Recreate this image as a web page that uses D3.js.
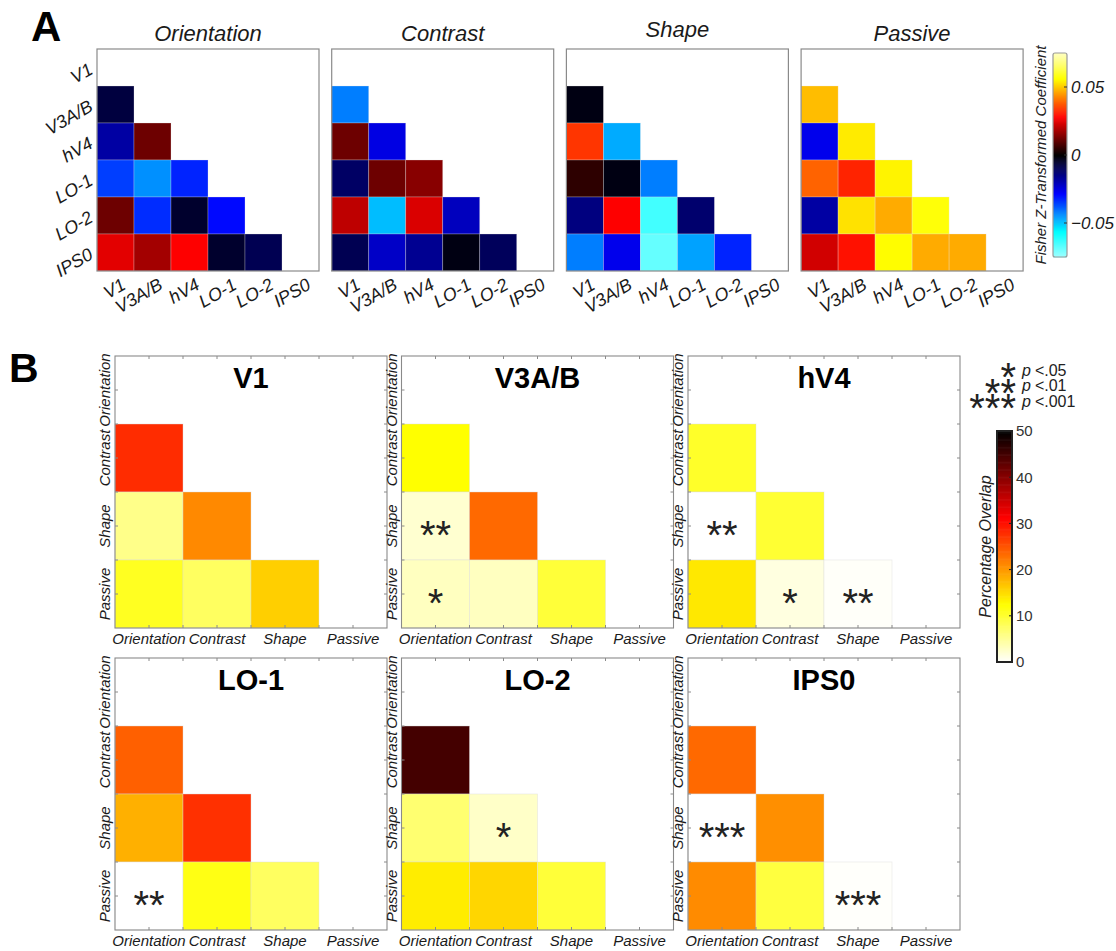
<!DOCTYPE html>
<html>
<head>
<meta charset="utf-8">
<script src="https://cdn.jsdelivr.net/npm/d3@7"></script>
<style>
  body { margin: 0; background: #fff; }
  svg { display: block; }
  text { font-family: Arial, "Liberation Sans", Helvetica, sans-serif; }
</style>
</head>
<body>
<svg id="fig" width="1116" height="951"></svg>
<script>
// ---------- data ----------
const regions = ["V1", "V3A/B", "hV4", "LO-1", "LO-2", "IPS0"];
const tasks = ["Orientation", "Contrast", "Shape", "Passive"];

// Panel A: Fisher Z-transformed coefficients, lower triangle (row = regions[1..], col = regions[0..row-1])
const orientationZ = [
  [-0.007],
  [-0.018, 0.012],
  [-0.035, -0.044, -0.032],
  [0.012, -0.033, -0.005, -0.029],
  [0.025, 0.018, 0.028, -0.005, -0.009]
];
const contrastZ = [
  [-0.042],
  [0.012, -0.025],
  [-0.011, 0.012, 0.015],
  [0.021, -0.049, 0.024, -0.021],
  [-0.009, -0.022, -0.016, -0.002, -0.010]
];
const shapeZ = [
  [-0.002],
  [0.034, -0.047],
  [0.005, -0.002, -0.042],
  [-0.014, 0.028, -0.064, -0.012],
  [-0.042, -0.026, -0.068, -0.046, -0.032]
];
const passiveZ = [
  [0.049],
  [-0.026, 0.054],
  [0.039, 0.032, 0.055],
  [-0.018, 0.053, 0.047, 0.057],
  [0.023, 0.030, 0.056, 0.047, 0.047]
];
const zTicks = [-0.05, 0, 0.05];

// Panel B: percentage overlap between tasks, lower triangle (row = tasks[1..], col = tasks[0..row-1])
const overlapRegions = ["V1", "V3A/B", "hV4", "LO-1", "LO-2", "IPS0"];
const overlapV1   = [[28], [5.8, 21.2], [10.9, 7.8, 16]];
const overlapV3AB = [[12.5], [2.3, 23.5], [3.1, 3.1, 9.7]];
const overlapHV4  = [[10.5], [0, 10], [14.2, 1.5, 0.3]];
const overlapLO1  = [[24.2], [18.3, 27.7], [0, 11.5, 7.8]];
const overlapLO2  = [[45], [7, 2.7], [13.8, 15.5, 9.7]];
const overlapIPS0 = [[23.5], [0, 20.7], [21, 9.4, 0.2]];

// significance level per cell: 0 none, 1 p<.05, 2 p<.01, 3 p<.001
const starsV1   = [[0], [0, 0], [0, 0, 0]];
const starsV3AB = [[0], [2, 0], [1, 0, 0]];
const starsHV4  = [[0], [2, 0], [0, 1, 2]];
const starsLO1  = [[0], [0, 0], [2, 0, 0]];
const starsLO2  = [[0], [0, 1], [0, 0, 0]];
const starsIPS0 = [[0], [3, 0], [0, 0, 3]];

const overlapTicks = [0, 10, 20, 30, 40, 50];
const sigLabels = ["<.05", "<.01", "<.001"];

// ---------- colour maps ----------
const clamp01 = v => Math.max(0, Math.min(1, v));
function hotRGB(t, blueMax) {
  const r = clamp01(t / 0.375);
  const g = clamp01((t - 0.375) / 0.375);
  const b = clamp01((t - 0.75) / 0.25) * blueMax;
  return d3.rgb(r * 255, g * 255, b * 255);
}
function coldRGB(t) {
  const b = clamp01(t / 0.375);
  const g = clamp01((t - 0.375) / 0.375);
  const r = clamp01((t - 0.75) / 0.25) * 0.63;
  return d3.rgb(r * 255, g * 255, b * 255);
}
const zNorm = d3.scaleLinear().domain([-0.075, 0.075]).range([-1, 1]).clamp(true);
const zColor = v => { const s = zNorm(v); return (s >= 0 ? hotRGB(s, 0.75) : coldRGB(-s)).toString(); };
const ovNorm = d3.scaleLinear().domain([0, 50]).range([1, 0]).clamp(true);
const overlapColor = v => hotRGB(ovNorm(v), 1).toString();

const svg = d3.select("#fig");
const ink = "#1a1a1a";

// ---------- panel A ----------
svg.append("text").attr("x", 31).attr("y", 41)
  .attr("font-size", 42).attr("font-weight", "bold").attr("fill", "#000").text("A");

const cellA = 37, sizeA = cellA * regions.length, aTop = 49;
const zByTask = [orientationZ, contrastZ, shapeZ, passiveZ];

tasks.forEach((task, i) => {
  const g = svg.append("g").attr("transform", `translate(${97 + i * 234.7},${aTop})`);
  const x = d3.scaleBand().domain(regions).range([0, sizeA]);
  const y = d3.scaleBand().domain(regions).range([0, sizeA]);

  const cells = [];
  zByTask[i].forEach((row, ri) => row.forEach((v, ci) =>
    cells.push({ r: regions[ri + 1], c: regions[ci], v })));

  g.selectAll("rect.cell").data(cells).join("rect")
    .attr("class", "cell")
    .attr("x", d => x(d.c)).attr("y", d => y(d.r))
    .attr("width", x.bandwidth()).attr("height", y.bandwidth())
    .attr("fill", d => zColor(d.v))
    .attr("stroke", "#e6e6e6").attr("stroke-opacity", 0.35).attr("stroke-width", 0.8);

  g.append("rect").attr("width", sizeA).attr("height", sizeA)
    .attr("fill", "none").attr("stroke", "#8a8a8a").attr("stroke-width", 1.2);

  const hasDesc = /[gjpqy]/.test(task);
  g.append("text").attr("x", sizeA / 2).attr("y", hasDesc ? -12 : -8)
    .attr("text-anchor", "middle").attr("font-size", 22).attr("font-style", "italic")
    .attr("fill", ink).text(task);

  g.selectAll("text.xl").data(regions).join("text")
    .attr("class", "xl")
    .attr("transform", d => `translate(${x(d) + x.bandwidth() / 2 + 5},${sizeA + 6}) rotate(-30)`)
    .attr("text-anchor", "end").attr("dy", "0.72em")
    .attr("font-size", 18).attr("font-style", "italic").attr("fill", ink).text(d => d);

  if (i === 0) {
    g.selectAll("text.yl").data(regions).join("text")
      .attr("class", "yl")
      .attr("transform", d => `translate(-6,${y(d) + y.bandwidth() / 2}) rotate(-30)`)
      .attr("text-anchor", "end").attr("dy", "0.35em")
      .attr("font-size", 18).attr("font-style", "italic").attr("fill", ink).text(d => d);
  }
});

// colour bar A
{
  const cbX = 1053, cbW = 14, cbTop = 53, cbBot = 257;
  const cy = d3.scaleLinear().domain([-0.075, 0.075]).range([cbBot, cbTop]);
  const steps = d3.range(-0.075, 0.075, 0.15 / 200);
  const g = svg.append("g");
  g.selectAll("rect").data(steps).join("rect")
    .attr("x", cbX).attr("width", cbW)
    .attr("y", d => cy(d + 0.15 / 200)).attr("height", Math.abs(cy(0) - cy(0.15 / 200)) + 0.6)
    .attr("fill", d => zColor(d + 0.15 / 400));
  g.append("rect").attr("x", cbX).attr("y", cbTop).attr("width", cbW).attr("height", cbBot - cbTop)
    .attr("rx", 2).attr("fill", "none").attr("stroke", "#9a9a9a").attr("stroke-width", 1.2);
  g.selectAll("line.t").data(zTicks).join("line").attr("class", "t")
    .attr("x1", cbX + cbW - 3).attr("x2", cbX + cbW).attr("y1", d => cy(d)).attr("y2", d => cy(d))
    .attr("stroke", "#333");
  g.selectAll("text.t").data(zTicks).join("text").attr("class", "t")
    .attr("x", cbX + 18).attr("y", d => cy(d)).attr("dy", "0.36em")
    .attr("font-size", 17).attr("font-style", "italic").attr("fill", ink)
    .text(d => d === 0 ? "0" : d3.format(".2f")(d).replace(/^(-?)0\./, "$10."));
  g.append("text").attr("transform", `translate(1046,${(cbTop + cbBot) / 2}) rotate(-90)`)
    .attr("text-anchor", "middle").attr("font-size", 15).attr("font-style", "italic")
    .attr("fill", "#222").text("Fisher Z-Transformed Coefficient");
}

// ---------- panel B ----------
svg.append("text").attr("x", 9).attr("y", 382)
  .attr("font-size", 41).attr("font-weight", "bold").attr("fill", "#000").text("B");

const cellB = 68, sizeB = cellB * tasks.length;
const bLefts = [115, 401.5, 688], bTops = [356, 658];
const overlapData = [overlapV1, overlapV3AB, overlapHV4, overlapLO1, overlapLO2, overlapIPS0];
const starData = [starsV1, starsV3AB, starsHV4, starsLO1, starsLO2, starsIPS0];

overlapRegions.forEach((reg, k) => {
  const g = svg.append("g")
    .attr("transform", `translate(${bLefts[k % 3]},${bTops[Math.floor(k / 3)]})`);
  const x = d3.scaleBand().domain(tasks).range([0, sizeB]);
  const y = d3.scaleBand().domain(tasks).range([0, sizeB]);

  const cells = [];
  overlapData[k].forEach((row, ri) => row.forEach((v, ci) =>
    cells.push({ r: tasks[ri + 1], c: tasks[ci], v, s: starData[k][ri][ci] })));

  g.selectAll("rect.cell").data(cells).join("rect")
    .attr("class", "cell")
    .attr("x", d => x(d.c)).attr("y", d => y(d.r))
    .attr("width", x.bandwidth()).attr("height", y.bandwidth())
    .attr("fill", d => overlapColor(d.v))
    .attr("stroke", "#dcdcdc").attr("stroke-opacity", 0.5).attr("stroke-width", 0.8);

  g.selectAll("text.star").data(cells.filter(d => d.s > 0)).join("text")
    .attr("class", "star")
    .attr("x", d => x(d.c) + x.bandwidth() / 2)
    .attr("y", d => y(d.r) + y.bandwidth() / 2 + 23)
    .attr("text-anchor", "middle").attr("font-size", 40).attr("fill", "#222")
    .text(d => "*".repeat(d.s));

  // frame and inward ticks on all four sides
  g.append("rect").attr("width", sizeB).attr("height", sizeB)
    .attr("fill", "none").attr("stroke", "#8a8a8a").attr("stroke-width", 1.1);
  const tickPos = d3.range(1, tasks.length * 2).map(t => t * cellB / 2);
  const tl = 3;
  const ticks = [];
  tickPos.forEach(p => {
    ticks.push([p, 0, p, tl], [p, sizeB, p, sizeB - tl], [0, p, tl, p], [sizeB, p, sizeB - tl, p]);
  });
  g.selectAll("line.tk").data(ticks).join("line").attr("class", "tk")
    .attr("x1", d => d[0]).attr("y1", d => d[1]).attr("x2", d => d[2]).attr("y2", d => d[3])
    .attr("stroke", "#8a8a8a").attr("stroke-width", 1);

  g.append("text").attr("x", sizeB / 2).attr("y", 32)
    .attr("text-anchor", "middle").attr("font-size", 29).attr("font-weight", "bold")
    .attr("fill", "#000").text(reg);

  g.selectAll("text.xl").data(tasks).join("text").attr("class", "xl")
    .attr("x", d => x(d) + x.bandwidth() / 2).attr("y", sizeB + 16)
    .attr("text-anchor", "middle").attr("font-size", 15).attr("font-style", "italic")
    .attr("fill", ink).text(d => d);

  g.selectAll("text.yl").data(tasks).join("text").attr("class", "yl")
    .attr("transform", d => `translate(-5,${y(d) + y.bandwidth() / 2}) rotate(-90)`)
    .attr("text-anchor", "middle").attr("font-size", 15).attr("font-style", "italic")
    .attr("fill", ink).text(d => d);
});

// significance legend: one text block for the stacked star column, one label per row
{
  const g = svg.append("g");
  const starCol = g.append("text").attr("text-anchor", "end")
    .attr("font-size", 40).attr("fill", "#222");
  sigLabels.forEach((lab, i) => {
    const cy = 368 + i * 15.5;
    starCol.append("tspan").attr("x", 1016).attr("y", cy + 23).text("*".repeat(i + 1));
    const t = g.append("text").attr("x", 1022).attr("y", cy + 7.5)
      .attr("font-size", 16).attr("fill", "#222");
    t.append("tspan").attr("font-style", "italic").text("p");
    t.append("tspan").attr("dx", 4).text(lab);
  });
}

// colour bar B
{
  const cbX = 997, cbW = 15, cbTop = 431, cbBot = 662;
  const cy = d3.scaleLinear().domain([0, 50]).range([cbBot, cbTop]);
  const steps = d3.range(0, 50, 0.25);
  const g = svg.append("g");
  g.selectAll("rect").data(steps).join("rect")
    .attr("x", cbX).attr("width", cbW)
    .attr("y", d => cy(d + 0.25)).attr("height", Math.abs(cy(0) - cy(0.25)) + 0.6)
    .attr("fill", d => overlapColor(d + 0.125));
  g.append("rect").attr("x", cbX).attr("y", cbTop).attr("width", cbW).attr("height", cbBot - cbTop)
    .attr("fill", "none").attr("stroke", "#222").attr("stroke-width", 2);
  g.selectAll("line.t").data(overlapTicks.slice(1, -1)).join("line").attr("class", "t")
    .attr("x1", cbX + cbW - 3).attr("x2", cbX + cbW).attr("y1", d => cy(d)).attr("y2", d => cy(d))
    .attr("stroke", "#222");
  g.selectAll("text.t").data(overlapTicks).join("text").attr("class", "t")
    .attr("x", cbX + 19).attr("y", d => cy(d)).attr("dy", "0.36em")
    .attr("font-size", 15).attr("fill", "#333").text(d => d);
  g.append("text").attr("transform", `translate(991,${(cbTop + cbBot) / 2}) rotate(-90)`)
    .attr("text-anchor", "middle").attr("font-size", 16).attr("font-style", "italic")
    .attr("fill", "#222").text("Percentage Overlap");
}
</script>
</body>
</html>
